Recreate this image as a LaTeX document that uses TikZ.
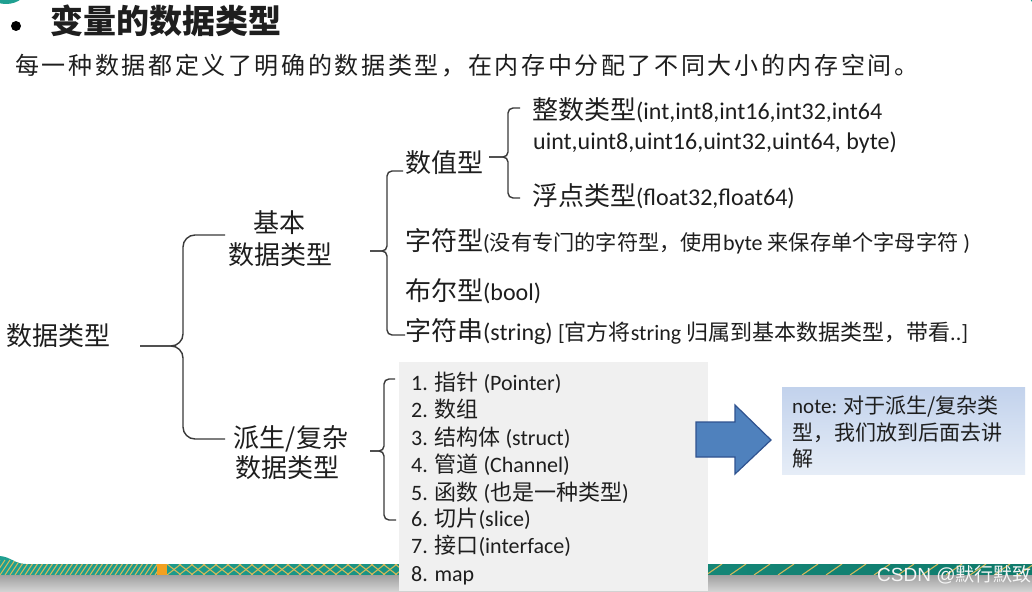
\documentclass[tikz,border=0pt]{standalone}
\usepackage{fontspec}
\setmainfont{Carlito}
\newfontfamily\cjk{Noto Sans CJK SC}
\newfontfamily\cjksp{Noto Sans CJK SC}[LetterSpace=11]
\newfontfamily\arialf{Liberation Sans}
\newcommand\zhb[1]{{\fontsize{26}{30}\selectfont\cjk #1}}
\newcommand\zhs[1]{{\fontsize{22}{26}\selectfont\cjk #1}}
\newcommand\zht[1]{{\fontsize{21.2}{25}\selectfont\cjk #1}}
\newcommand\zhn[1]{{\fontsize{21}{25}\selectfont\cjk #1}}
\newcommand\lat{\fontsize{24}{28}\selectfont}
\newcommand\lats{\fontsize{22}{26}\selectfont}
\newcommand\latn{\fontsize{21}{25}\selectfont}
\definecolor{txt}{HTML}{1E1E1E}
\definecolor{brc}{HTML}{3A3A3A}
\definecolor{boxg}{HTML}{F0F0F0}
\definecolor{arrf}{HTML}{4F81BD}
\definecolor{arrd}{HTML}{2F528F}
\definecolor{notet}{HTML}{C2D2EC}
\definecolor{noteb}{HTML}{E6EDF7}
\definecolor{teala}{HTML}{1FA091}
\definecolor{tealb}{HTML}{0F7A6B}
\definecolor{strp}{HTML}{D2B85A}
\definecolor{orng}{HTML}{F2A020}
\begin{document}
\begin{tikzpicture}[x=1pt,y=-1pt,
  lbl/.style={inner sep=0pt, anchor=base west, text=txt},
  ctr/.style={inner sep=0pt, anchor=base, text=txt},
  brace/.style={draw=brc, line width=1.4pt},
  bracebig/.style={brace, rounded corners=12pt},
  bracesmall/.style={brace, rounded corners=5pt},
  stripe/.style={draw=strp, line width=1.1pt}]
\useasboundingbox[fill=white] (0,0) rectangle (1032,591);

% decorative corners
\fill[teala] (6,-14) ellipse [x radius=22, y radius=18];
\fill[teala] (1042,-6) circle (13);

% bottom band
\begin{scope}
  \clip (0,556) to[out=-5,in=180] (26,564) -- (1032,564) -- (1032,575) -- (0,575) -- cycle;
  \shade[left color=teala, right color=tealb] (0,550) rectangle (1032,575);
  \foreach \i in {-10,-5,...,155} \draw[stripe] (\i,575) -- (\i+10,560);
  \fill[orng] (157,560) rectangle (167,575);
  \foreach \i in {167,179,...,399} {\draw[stripe] (\i,575) -- (\i+14,564); \draw[stripe] (\i,564) -- (\i+14,575);}
  \foreach \i in {706,730,...,1040} \draw[stripe] (\i,575) -- (\i+16,564);
\end{scope}
\shade[top color=gray!75, bottom color=gray!35] (0,575) rectangle (1032,591);

% heading
\fill[black] (16,26) circle (5);
\node[lbl] (title) at (50,34) {\fontsize{33}{40}\selectfont\cjk\bfseries 变量的数据类型};
\node[lbl] (sub) at (15,75) {\fontsize{24}{28}\selectfont\cjksp 每一种数据都定义了明确的数据类型，在内存中分配了不同大小的内存空间。};

% tree labels
\node[lbl] (root) at (6,345) {\zhb{数据类型}};
\node[ctr] (basic1) at (279,232) {\zhb{基本}};
\node[ctr] (basic2) at (280,264) {\zhb{数据类型}};
\node[ctr] (der1) at (291,447) {\zhb{派生/复杂}};
\node[ctr] (der2) at (287,477) {\zhb{数据类型}};
\node[lbl] (shuzhi) at (405,172) {\zhb{数值型}};
\node[lbl] (zhengshu) at (532,120) {\zhb{整数类型}\lat(int,int8,int16,int32,int64};
\node[lbl] (uint) at (533,149) {\lat uint,uint8,uint16,uint32,uint64, byte)};
\node[lbl] (fudian) at (532,205) {\zhb{浮点类型}\lat(float32,float64)};
\node[lbl] (zifu) at (405,250) {\zhb{字符型}\lats(\zht{没有专门的字符型，使用}byte \zht{来保存单个字母字符} )};
\node[lbl] (buer) at (405,300) {\zhb{布尔型}\lat(bool)};
\node[lbl] (zfc) at (405,340) {\zhb{字符串}\lat(string) \lats[\zhs{官方将}string \zhs{归属到基本数据类型，带看}..]};

% brace coordinates
\coordinate (b1s) at (140,346); \coordinate (b1v) at (183,346);
\coordinate (b1t) at (225,235); \coordinate (b1b) at (225,439);
\coordinate (b2s) at (370,251); \coordinate (b2v) at (387,251);
\coordinate (b2t) at (403,171); \coordinate (b2b) at (405,335);
\coordinate (b3s) at (489,157); \coordinate (b3v) at (508,157);
\coordinate (b3t) at (520,108); \coordinate (b3b) at (520,198);
\coordinate (b4s) at (370,451); \coordinate (b4v) at (384,451);
\coordinate (b4t) at (395,379); \coordinate (b4b) at (396,520);

\draw[bracebig] (b1t) -- (b1t -| b1v) -- (b1v) -- (b1s);
\draw[bracebig] (b1s) -- (b1v) -- (b1b -| b1v) -- (b1b);
\draw[bracesmall] (b2t) -- (b2t -| b2v) -- (b2v) -- (b2s);
\draw[bracesmall] (b2s) -- (b2v) -- (b2b -| b2v) -- (b2b);
\draw[bracesmall] (b3t) -- (b3t -| b3v) -- (b3v) -- (b3s);
\draw[bracesmall] (b3s) -- (b3v) -- (b3b -| b3v) -- (b3b);
\draw[bracesmall] (b4t) -- (b4t -| b4v) -- (b4v) -- (b4s);
\draw[bracesmall] (b4s) -- (b4v) -- (b4b -| b4v) -- (b4b);

% derived list box
\fill[boxg] (399,362) rectangle (708,591);
\node[lbl] (i1) at (411,390) {\lats 1. \zhs{指针} (Pointer)};
\node[lbl] (i2) at (411,417) {\lats 2. \zhs{数组}};
\node[lbl] (i3) at (411,445) {\lats 3. \zhs{结构体} (struct)};
\node[lbl] (i4) at (411,472) {\lats 4. \zhs{管道} (Channel)};
\node[lbl] (i5) at (411,500) {\lats 5. \zhs{函数} (\zhs{也是一种类型})};
\node[lbl] (i6) at (411,526) {\lats 6. \zhs{切片}(slice)};
\node[lbl] (i7) at (411,553) {\lats 7. \zhs{接口}(interface)};
\node[lbl] (i8) at (411,581) {\lats 8. map};

% block arrow
\filldraw[fill=arrf, draw=arrd, line width=1.2pt, line join=miter]
  (696,422) -- (735,422) -- (735,405) -- (771,440) -- (735,474) -- (735,457) -- (696,457) -- cycle;

% note
\node[inner sep=0pt, anchor=north west, minimum width=243pt, minimum height=87pt,
      top color=notet, bottom color=noteb] (notebox) at (782,387) {};
\node[lbl] (n1) at (792,413) {\latn note: \zhn{对于派生/复杂类}};
\node[lbl] (n2) at (792,440) {\zhn{型，我们放到后面去讲}};
\node[lbl] (n3) at (792,466) {\zhn{解}};

% watermark
\node[lbl, text=white!92!gray] (wm) at (877,581) {\fontsize{19}{22}\selectfont\arialf CSDN @\cjk 默行默致};
\end{tikzpicture}
\end{document}
